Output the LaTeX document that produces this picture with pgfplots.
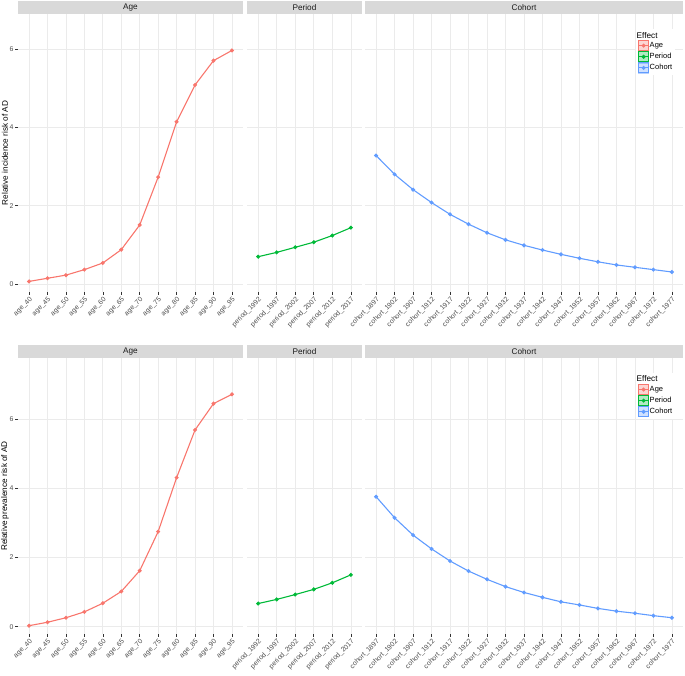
\documentclass[border=0pt]{standalone}
\usepackage{pgfplots}
\pgfplotsset{compat=1.18}
\usepackage{fontspec}
\setmainfont{Liberation Sans}

\definecolor{ageC}{HTML}{F8766D}
\definecolor{perC}{HTML}{00BA38}
\definecolor{cohC}{HTML}{619CFF}
\definecolor{gridC}{HTML}{EBEBEB}
\definecolor{stripC}{HTML}{D9D9D9}
\definecolor{stripT}{HTML}{1A1A1A}
\definecolor{labC}{HTML}{4D4D4D}
\definecolor{tickC}{HTML}{333333}

\newcommand\tickfont{\fontsize{6.9}{8}\selectfont}
\newcommand\legfont{\fontsize{7.5}{8.5}\selectfont}
\newcommand\stripfont{\fontsize{8.2}{9.5}\selectfont}

\pgfplotsset{
  panel/.style={
    scale only axis, anchor=south west,
    axis line style={draw=none},
    grid=major, major grid style={draw=gridC, line width=0.7pt},
    tick style={draw=tickC, line width=0.6pt},
    major tick length=2.75pt, tick align=outside,
    xtick pos=bottom, ytick pos=left,
    ytick={0,2,4,6},
    ticklabel style={font=\tickfont, text=labC},
    xticklabel style={rotate=45, anchor=north east, inner sep=1pt},
    yticklabel style={inner sep=1.5pt},
    every axis y label/.style={at={(axis description cs:-0.058,0.5)}, rotate=90,
      anchor=center, font=\stripfont, text=black},
    /pgf/number format/assume math mode=true,
    clip=false,
  },
  toprow/.style={ymin=-0.2, ymax=6.89, height=278pt},
  botrow/.style={ymin=-0.21, ymax=7.77, height=276pt},
  agepanel/.style={width=225pt, xmin=-0.6, xmax=11.6, xtick={0,...,11},
    xticklabels={age\_40,age\_45,age\_50,age\_55,age\_60,age\_65,age\_70,age\_75,age\_80,age\_85,age\_90,age\_95}},
  perpanel/.style={width=115pt, xmin=-0.6, xmax=5.6, xtick={0,...,5},
    xticklabels={period\_1992,period\_1997,period\_2002,period\_2007,period\_2012,period\_2017},
    yticklabels={}, ytick style={draw=none}},
  cohpanel/.style={width=318pt, xmin=-0.6, xmax=16.6, xtick={0,...,16},
    xticklabels={cohort\_1897,cohort\_1902,cohort\_1907,cohort\_1912,cohort\_1917,cohort\_1922,cohort\_1927,cohort\_1932,cohort\_1937,cohort\_1942,cohort\_1947,cohort\_1952,cohort\_1957,cohort\_1962,cohort\_1967,cohort\_1972,cohort\_1977},
    yticklabels={}, ytick style={draw=none},
    legend style={at={(0.975,0.945)}, anchor=north east, draw=none, fill=white,
      inner sep=2pt, row sep=0pt, font=\legfont, nodes={inner sep=0.6pt}},
    legend cell align=left},
  effect/.style={color=#1, line width=1.1pt, mark=*, mark size=1.4pt,
    legend image code/.code={
      \fill[#1, fill opacity=0.3] (0pt,-5pt) rectangle (10pt,5pt);
      \draw[#1, draw opacity=0.45, line width=0.7pt] (0pt,-5pt) rectangle (10pt,5pt);
      \draw[#1, line width=0.9pt] (0pt,0pt) -- (10pt,0pt);
      \fill[#1] (5pt,0pt) circle (1.4pt);
    }},
}

\begin{document}
\begin{tikzpicture}
\path[use as bounding box] (0pt,0pt) rectangle (685pt,676pt);

% ---- top row: incidence
\begin{axis}[panel, toprow, agepanel, name=a1, at={(18pt,384pt)},
  ylabel={Relative incidence risk of AD}]
  \addplot[effect=ageC] coordinates {
    (0,0.07) (1,0.15) (2,0.23) (3,0.37) (4,0.54) (5,0.88)
    (6,1.51) (7,2.73) (8,4.14) (9,5.08) (10,5.70) (11,5.96)};
\end{axis}
\begin{axis}[panel, toprow, perpanel, name=a2, at={(247pt,384pt)}]
  \addplot[effect=perC] coordinates {
    (0,0.70) (1,0.81) (2,0.94) (3,1.07) (4,1.24) (5,1.44)};
\end{axis}
\begin{axis}[panel, toprow, cohpanel, name=a3, at={(365pt,384pt)}]
  \addlegendimage{empty legend}\addlegendentry{\hspace{-13pt}\stripfont Effect}
  \addlegendimage{effect=ageC}\addlegendentry{Age}
  \addlegendimage{effect=perC}\addlegendentry{Period}
  \addplot[effect=cohC] coordinates {
    (0,3.28) (1,2.80) (2,2.41) (3,2.08) (4,1.78) (5,1.53) (6,1.31) (7,1.13) (8,0.99)
    (9,0.87) (10,0.76) (11,0.66) (12,0.57) (13,0.49) (14,0.43) (15,0.37) (16,0.31)};
  \addlegendentry{Cohort}
\end{axis}

% ---- bottom row: prevalence
\begin{axis}[panel, botrow, agepanel, name=b1, at={(18pt,42pt)},
  ylabel={Relative prevalence risk of AD}]
  \addplot[effect=ageC] coordinates {
    (0,0.03) (1,0.13) (2,0.26) (3,0.43) (4,0.68) (5,1.02)
    (6,1.62) (7,2.75) (8,4.31) (9,5.69) (10,6.45) (11,6.72)};
\end{axis}
\begin{axis}[panel, botrow, perpanel, name=b2, at={(247pt,42pt)}]
  \addplot[effect=perC] coordinates {
    (0,0.67) (1,0.79) (2,0.93) (3,1.08) (4,1.27) (5,1.50)};
\end{axis}
\begin{axis}[panel, botrow, cohpanel, name=b3, at={(365pt,42pt)}]
  \addlegendimage{empty legend}\addlegendentry{\hspace{-13pt}\stripfont Effect}
  \addlegendimage{effect=ageC}\addlegendentry{Age}
  \addlegendimage{effect=perC}\addlegendentry{Period}
  \addplot[effect=cohC] coordinates {
    (0,3.76) (1,3.15) (2,2.65) (3,2.25) (4,1.90) (5,1.61) (6,1.37) (7,1.16) (8,0.99)
    (9,0.85) (10,0.72) (11,0.63) (12,0.53) (13,0.45) (14,0.39) (15,0.32) (16,0.26)};
  \addlegendentry{Cohort}
\end{axis}

% facet strips
\foreach \n/\t in {a1/Age,a2/Period,a3/Cohort,b1/Age,b2/Period,b3/Cohort}{
  \fill[stripC] (\n.north west) rectangle ([yshift=13pt]\n.north east);
  \node[font=\stripfont, text=stripT, inner sep=0pt] at ([yshift=6.5pt]\n.north) {\t};
}
\end{tikzpicture}
\end{document}
